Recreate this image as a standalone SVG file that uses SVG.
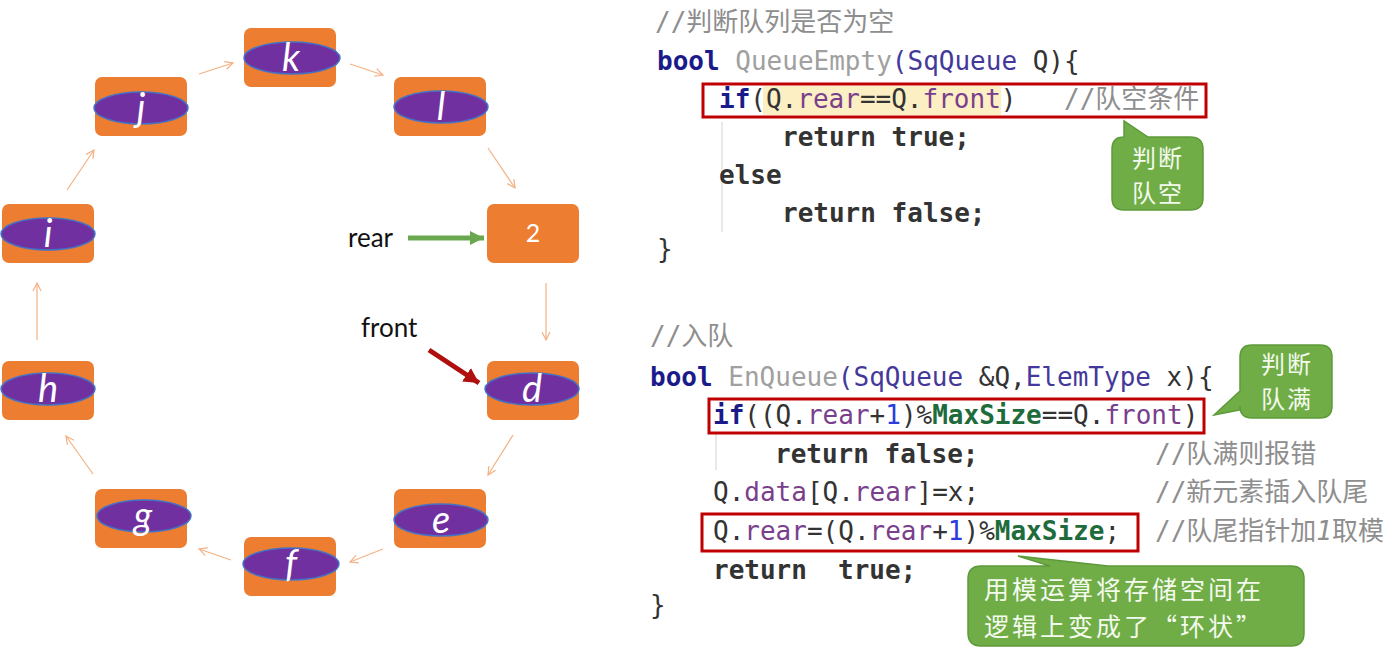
<svg xmlns="http://www.w3.org/2000/svg" width="1391" height="650" viewBox="0 0 1391 650">
<style>
.box{fill:#ED7D31}
.ell{fill:#7030A0;stroke:#4472C4;stroke-width:1.5}
.let{font-family:Lato,"Open Sans",sans-serif;font-style:italic;font-size:38px;fill:#fff;text-anchor:middle}
.num{font-family:Lato,"Open Sans",sans-serif;font-size:25px;fill:#fff;text-anchor:middle}
.lbl{font-family:Lato,"Open Sans",sans-serif;font-size:26px;fill:#111}
.lnk{stroke:#F4B183;stroke-width:1.2;fill:none}
.code text{font-family:"DejaVu Sans Mono","Noto Sans CJK SC",monospace;font-size:26px;fill:#333;white-space:pre}
.kw{font-weight:bold;fill:#1a1a8a}
.fn{fill:#a0a0a0}
.ty{fill:#44399a}
.fd{fill:#7a3f8c}
.nm{fill:#2b3be0}
.ms{font-weight:bold;fill:#1e6b3c}
.code .cm{fill:#8e8e8e}
.redbox{fill:none;stroke:#C00000;stroke-width:3}
.guide{stroke:#e2e2e2;stroke-width:1.5}
.bub{fill:#70AD47;stroke:#5d9a3a;stroke-width:1.5}
.btx{font-family:"Noto Sans CJK SC",sans-serif;fill:#f4faee}
</style>
<defs>
<marker id="open" markerUnits="userSpaceOnUse" markerWidth="12" markerHeight="12" refX="9" refY="5" orient="auto">
<path d="M1,1 L9,5 L1,9" fill="none" stroke="#F4B183" stroke-width="1.2"/>
</marker>
<marker id="gHead" markerUnits="userSpaceOnUse" markerWidth="16" markerHeight="16" refX="14" refY="7" orient="auto">
<path d="M0,0 L14,7 L0,14 Z" fill="#6AA84F"/>
</marker>
<marker id="rHead" markerUnits="userSpaceOnUse" markerWidth="18" markerHeight="18" refX="15" refY="8" orient="auto">
<path d="M0,0 L15,8 L0,16 Z" fill="#B00F0F"/>
</marker>
</defs>

<g id="connectors">
<line class="lnk" x1="199" y1="74" x2="233" y2="63" marker-end="url(#open)"/>
<line class="lnk" x1="350" y1="64" x2="383" y2="75" marker-end="url(#open)"/>
<line class="lnk" x1="488" y1="148" x2="515" y2="188" marker-end="url(#open)"/>
<line class="lnk" x1="546" y1="283" x2="546" y2="340" marker-end="url(#open)"/>
<line class="lnk" x1="513" y1="435" x2="488" y2="475" marker-end="url(#open)"/>
<line class="lnk" x1="383" y1="549" x2="350" y2="562" marker-end="url(#open)"/>
<line class="lnk" x1="231" y1="560" x2="199" y2="549" marker-end="url(#open)"/>
<line class="lnk" x1="93" y1="474" x2="66" y2="436" marker-end="url(#open)"/>
<line class="lnk" x1="37" y1="340" x2="37" y2="283" marker-end="url(#open)"/>
<line class="lnk" x1="67" y1="190" x2="94" y2="150" marker-end="url(#open)"/>
<line x1="408" y1="238" x2="484" y2="238" stroke="#6AA84F" stroke-width="5" marker-end="url(#gHead)"/>
<line x1="429" y1="350" x2="479" y2="383" stroke="#B00F0F" stroke-width="5" marker-end="url(#rHead)"/>
</g>

<g id="node-k"><rect class="box" x="244" y="28" width="92" height="59" rx="7"/><ellipse class="ell" cx="292" cy="58" rx="48" ry="16"/><text class="let" x="291" y="71">k</text></g>
<g id="node-j"><rect class="box" x="95" y="77" width="92" height="59" rx="7"/><ellipse class="ell" cx="141" cy="108" rx="47" ry="16"/><text class="let" x="141" y="121">j</text></g>
<g id="node-l"><rect class="box" x="394" y="77" width="92" height="59" rx="7"/><ellipse class="ell" cx="441" cy="107" rx="47" ry="16"/><text class="let" x="441" y="120">l</text></g>
<g id="node-i"><rect class="box" x="2" y="204" width="92" height="59" rx="7"/><ellipse class="ell" cx="48" cy="234" rx="47" ry="16"/><text class="let" x="48" y="247">i</text></g>
<g id="node-2"><rect class="box" x="487" y="204" width="92" height="59" rx="7"/><text class="num" x="533" y="242">2</text></g>
<g id="node-h"><rect class="box" x="2" y="361" width="92" height="59" rx="7"/><ellipse class="ell" cx="48" cy="389" rx="47" ry="16"/><text class="let" x="48" y="402">h</text></g>
<g id="node-d"><rect class="box" x="487" y="361" width="92" height="59" rx="7"/><ellipse class="ell" cx="532" cy="389" rx="47" ry="16"/><text class="let" x="532" y="402">d</text></g>
<g id="node-g"><rect class="box" x="95" y="489" width="92" height="59" rx="7"/><ellipse class="ell" cx="144" cy="516" rx="47" ry="16"/><text class="let" x="143" y="529">g</text></g>
<g id="node-e"><rect class="box" x="394" y="489" width="92" height="59" rx="7"/><ellipse class="ell" cx="441" cy="520" rx="47" ry="16"/><text class="let" x="441" y="533">e</text></g>
<g id="node-f"><rect class="box" x="244" y="537" width="92" height="59" rx="7"/><ellipse class="ell" cx="291" cy="564" rx="48" ry="16"/><text class="let" x="291" y="577">f</text></g>

<g id="label-rear"><text class="lbl" x="348" y="247">rear</text></g>
<g id="label-front"><text class="lbl" x="361" y="337">front</text></g>

<g id="code-empty" class="code">
<rect x="763" y="86" width="238" height="29" fill="#FCEFC4"/>
<line class="guide" x1="722" y1="122" x2="722" y2="232"/>
<text x="655" y="31" class="cm">//判断队列是否为空</text>
<text x="657" y="70"><tspan class="kw">bool</tspan> <tspan class="fn">QueueEmpty</tspan><tspan class="ty">(SqQueue</tspan> Q){</text>
<text x="719" y="108"><tspan class="kw">if</tspan>(Q.<tspan class="fd">rear</tspan>==Q.<tspan class="fd">front</tspan>)<tspan class="cm" x="1064">//队空条件</tspan></text>
<text x="782" y="146" class="kw">return true;</text>
<text x="719" y="184" class="kw">else</text>
<text x="782" y="222" class="kw">return false;</text>
<text x="657" y="258">}</text>
<rect class="redbox" x="703" y="84" width="503" height="33"/>
</g>

<g id="code-enqueue" class="code">
<line class="guide" x1="716" y1="432" x2="716" y2="470"/>
<text x="650" y="345" class="cm">//入队</text>
<text x="650" y="386"><tspan class="kw">bool</tspan> <tspan class="fn">EnQueue</tspan><tspan class="ty">(SqQueue</tspan> &amp;Q,<tspan class="ty">ElemType</tspan> x){</text>
<text x="713" y="424"><tspan class="kw">if</tspan>((Q.<tspan class="fd">rear</tspan>+<tspan class="nm">1</tspan>)%<tspan class="ms">MaxSize</tspan>==Q.<tspan class="fd">front</tspan>)</text>
<text x="775" y="463" class="kw">return false;</text>
<text x="1155" y="463" class="cm">//队满则报错</text>
<text x="713" y="501">Q.<tspan class="fd">data</tspan>[Q.<tspan class="fd">rear</tspan>]=x;</text>
<text x="1155" y="501" class="cm">//新元素插入队尾</text>
<text x="713" y="540">Q.<tspan class="fd">rear</tspan>=(Q.<tspan class="fd">rear</tspan>+<tspan class="nm">1</tspan>)%<tspan class="ms">MaxSize</tspan>;</text>
<text x="1155" y="540" class="cm">//队尾指针加<tspan font-style="italic">1</tspan>取模</text>
<text x="713" y="579" class="kw">return<tspan x="838">true;</tspan></text>
<text x="650" y="614">}</text>
<rect class="redbox" x="709" y="399" width="495" height="34"/>
<rect class="redbox" x="702" y="514" width="436" height="37"/>
</g>

<g id="callout-empty">
<path class="bub" d="M1124,137 L1124,121 L1148,137 L1190,137 Q1203,137 1203,149 L1203,198 Q1203,210 1190,210 L1124,210 Q1112,210 1112,198 L1112,149 Q1112,137 1124,137 Z"/>
<text class="btx" font-size="24" letter-spacing="2" text-anchor="middle"><tspan x="1158" y="167">判断</tspan><tspan x="1158" y="202">队空</tspan></text>
</g>
<g id="callout-full">
<path class="bub" d="M1252,345 L1320,345 Q1332,345 1332,357 L1332,406 Q1332,418 1320,418 L1252,418 Q1240,418 1240,406 L1240,410 L1214,415 L1240,391 L1240,357 Q1240,345 1252,345 Z"/>
<text class="btx" font-size="24" letter-spacing="2" text-anchor="middle"><tspan x="1287" y="373">判断</tspan><tspan x="1287" y="408">队满</tspan></text>
</g>
<g id="callout-mod">
<path class="bub" d="M981,566 L1050,566 L1018,556 L1108,566 L1291,566 Q1304,566 1304,579 L1304,633 Q1304,646 1291,646 L981,646 Q968,646 968,633 L968,579 Q968,566 981,566 Z"/>
<text class="btx" font-size="25" letter-spacing="3"><tspan x="984" y="599">用模运算将存储空间在</tspan><tspan x="984" y="636">逻辑上变成了“环状”</tspan></text>
</g>
</svg>
